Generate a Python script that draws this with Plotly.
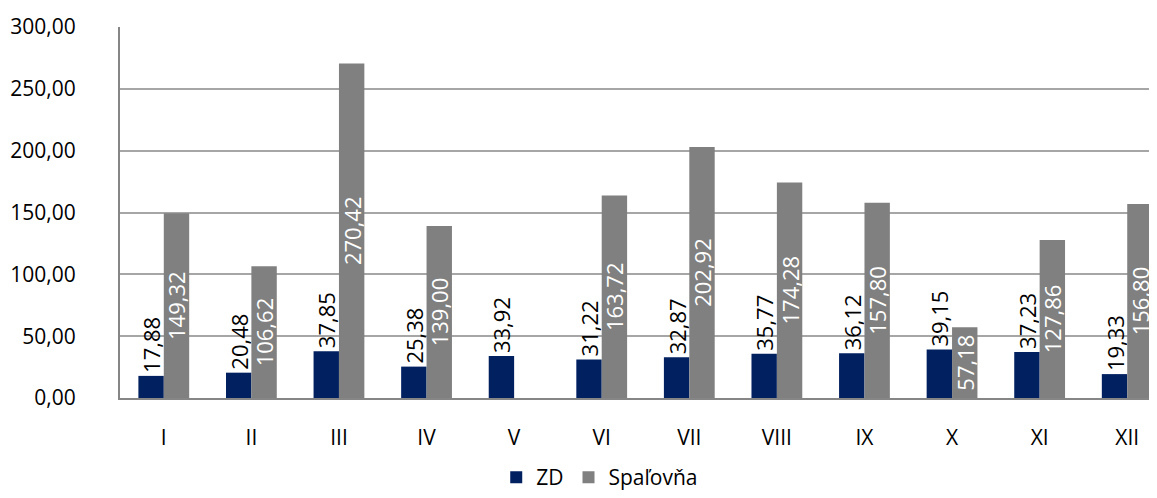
import plotly.graph_objects as go

months = ["I", "II", "III", "IV", "V", "VI", "VII", "VIII", "IX", "X", "XI", "XII"]
zd = [17.88, 20.48, 37.85, 25.38, 33.92, 31.22, 32.87, 35.77, 36.12, 39.15, 37.23, 19.33]
spalovna = [149.32, 106.62, 270.42, 139.00, 0.00, 163.72, 202.92, 174.28, 157.80, 57.18, 127.86, 156.80]
y_ticks = [0, 50, 100, 150, 200, 250, 300]

FONT = "Open Sans"

fig = go.Figure()
fig.add_trace(go.Bar(
    x=months, y=zd, name="ZD",
    marker=dict(color="#002060", line=dict(width=0)),
    texttemplate="%{y:.2f}", textposition="outside", textangle=-90,
    constraintext="none", cliponaxis=False,
    outsidetextfont=dict(family=FONT, size=22, color="#000000"),
))
fig.add_trace(go.Bar(
    x=months, y=spalovna, name="Spaľovňa",
    marker=dict(color="#808080", line=dict(width=0)),
    texttemplate="%{y:.2f}", textposition="inside", textangle=-90,
    insidetextanchor="middle", constraintext="none",
    insidetextfont=dict(family=FONT, size=22, color="#ffffff"),
))

fig.update_layout(
    width=1149, height=490,
    margin=dict(l=112, r=0, t=19, b=100),
    paper_bgcolor="white", plot_bgcolor="white",
    barmode="group", bargap=0.42, bargroupgap=0,
    separators=", ",
    font=dict(family=FONT, size=21, color="#000000"),
    showlegend=True,
    legend=dict(orientation="h", xref="container", yref="container",
                x=0.515, xanchor="center", y=0.0, yanchor="bottom",
                font=dict(family=FONT, size=21, color="#000000"),
                itemwidth=30, traceorder="normal"),
)
fig.update_xaxes(
    range=[-0.5, 11.34], showgrid=False, zeroline=False,
    showline=True, linecolor="#868686", linewidth=2,
    ticks="", ticklabelstandoff=20,
    tickfont=dict(family=FONT, size=21, color="#000000"),
)
fig.update_yaxes(
    range=[0, 300], tickvals=y_ticks, tickformat=".2f",
    showgrid=True, gridcolor="#a6a6a6", gridwidth=2,
    zeroline=False, showline=True, linecolor="#868686", linewidth=2,
    ticks="", ticklabelstandoff=38,
    tickfont=dict(family=FONT, size=21, color="#000000"),
)

fig.write_html("out.html")
